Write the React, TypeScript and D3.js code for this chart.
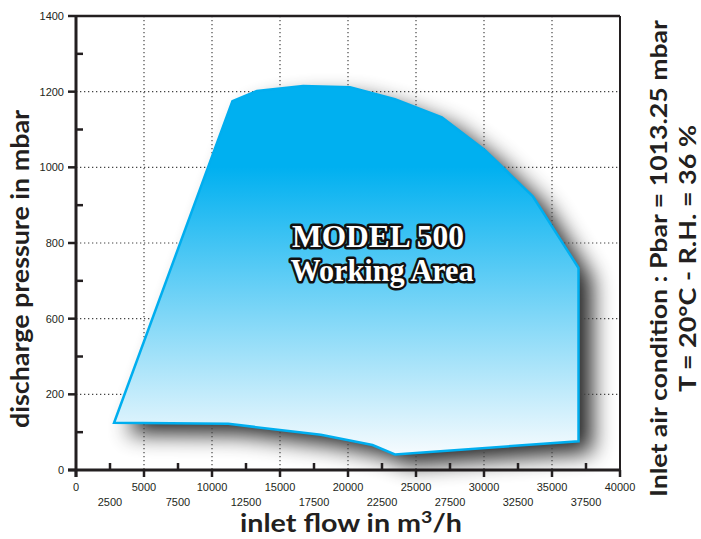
import React from 'react';
import * as d3 from 'd3';

// axis ticks
const flowMajor = [0, 5000, 10000, 15000, 20000, 25000, 30000, 35000, 40000];
const flowMinor = [2500, 7500, 12500, 17500, 22500, 27500, 32500, 37500];
const pressureMajor = [0, 200, 600, 800, 1000, 1200, 1400];
const pressureMinor = [100, 400, 700, 900, 1100, 1300];

// working area envelope (m3/h, mbar)
const envelopeFlow = [2800, 11500, 13300, 16700, 20150, 23450, 26900, 30050, 33600, 36950, 36950, 23450, 21800, 18000, 11200];
const envelopePressure = [125, 1175, 1202, 1215, 1212, 1180, 1132, 1046, 923, 734, 76, 41, 66, 93, 122];

const ink = '#231f20';
const titleFont = 'Lato, "DejaVu Sans", sans-serif';
const tickFont = '"Liberation Sans", Arial, sans-serif';

const App = () => {
  const left = 76;
  const right = 620;
  const top = 16;
  const bottom = 470;

  const x = d3.scaleLinear().domain([0, 40000]).range([left, right]);
  const step = (bottom - top) / (pressureMajor.length - 1);
  // the original axis spaces its labels evenly
  const y = d3
    .scaleLinear()
    .domain(pressureMajor)
    .range(pressureMajor.map((_, i) => bottom - i * step));

  const points: [number, number][] = envelopeFlow.map((f, i) => [f, envelopePressure[i]]);
  const area = d3
    .line<[number, number]>()
    .x((d) => x(d[0]))
    .y((d) => y(d[1]))
    .curve(d3.curveLinearClosed);
  const d = area(points) || '';

  return (
    <svg width={701} height={539} style={{ position: 'absolute', left: 0, top: 0, background: '#fff' }}>
      <defs>
        <filter id="shadow" x="-20%" y="-20%" width="150%" height="150%">
          <feGaussianBlur in="SourceAlpha" stdDeviation="11" />
          <feOffset dx="14" dy="11" result="b" />
          <feComponentTransfer>
            <feFuncA type="linear" slope="0.85" />
          </feComponentTransfer>
        </filter>
        <linearGradient id="fill" gradientUnits="userSpaceOnUse" x1="0" y1={y(1215)} x2="0" y2={y(41)}>
          <stop offset="0" stopColor="#00b0f0" />
          <stop offset="0.22" stopColor="#00b0f0" />
          <stop offset="1" stopColor="#f6fbfe" />
        </linearGradient>
      </defs>

      <path d={d} fill="#000" filter="url(#shadow)" />

      {/* grid */}
      <g stroke="#444" strokeWidth={1.2} strokeDasharray="1.3 2.7">
        {flowMajor.filter((v) => v > 0 && v < 40000).map((v) => (
          <line key={'gx' + v} x1={x(v)} x2={x(v)} y1={top} y2={bottom} />
        ))}
        {pressureMajor.filter((v) => v > 0 && v < 1400).map((v) => (
          <line key={'gy' + v} x1={left} x2={right} y1={y(v)} y2={y(v)} />
        ))}
      </g>

      <path d={d} fill="url(#fill)" stroke="#00aeef" strokeWidth={2.5} strokeLinejoin="miter" />

      {/* frame */}
      <line x1={left} x2={right} y1={top} y2={top} stroke={ink} strokeWidth={2.5} />
      <line x1={right} x2={right} y1={top} y2={bottom} stroke={ink} strokeWidth={2} />

      {/* x axis */}
      <g stroke={ink}>
        <line x1={left - 8} x2={right + 1} y1={bottom} y2={bottom} strokeWidth={3} />
        {flowMajor.map((v) => (
          <line key={'xt' + v} x1={x(v)} x2={x(v)} y1={bottom} y2={bottom + 7} strokeWidth={2.5} />
        ))}
        {flowMinor.map((v) => (
          <line key={'xm' + v} x1={x(v)} x2={x(v)} y1={bottom} y2={bottom - 7} strokeWidth={2.5} />
        ))}
      </g>
      <g fontFamily={tickFont} fontSize={11} fill={ink} textAnchor="middle">
        {flowMajor.map((v) => (
          <text key={'xl' + v} x={x(v)} y={491}>{v}</text>
        ))}
        {flowMinor.map((v) => (
          <text key={'xml' + v} x={x(v)} y={505.5}>{v}</text>
        ))}
      </g>

      {/* y axis */}
      <g stroke={ink}>
        <line x1={left} x2={left} y1={top - 1} y2={bottom + 7} strokeWidth={3} />
        {pressureMajor.map((v) => (
          <line key={'yt' + v} x1={left - 8} x2={left} y1={y(v)} y2={y(v)} strokeWidth={2.5} />
        ))}
        {pressureMinor.map((v) => (
          <line key={'ym' + v} x1={left} x2={left + 7} y1={y(v)} y2={y(v)} strokeWidth={2.5} />
        ))}
      </g>
      <g fontFamily={tickFont} fontSize={11} fill={ink} textAnchor="end">
        {pressureMajor.map((v) => (
          <text key={'yl' + v} x={64} y={y(v)} dominantBaseline="central">{v}</text>
        ))}
      </g>

      {/* titles */}
      <text x={351} y={532} textAnchor="middle" fontFamily={titleFont} fontWeight="bold" fontSize={25} fill={ink} textLength={222} lengthAdjust="spacingAndGlyphs">
        inlet flow in m<tspan fontSize={17} dy={-9}>3</tspan><tspan dy={9}>/h</tspan>
      </text>
      <text
        transform="translate(29,269) rotate(-90)"
        textAnchor="middle"
        fontFamily={titleFont}
        fontWeight="bold"
        fontSize={24}
        fill={ink}
        textLength={318}
        lengthAdjust="spacingAndGlyphs"
      >
        discharge pressure in mbar
      </text>
      <text
        transform="translate(667,258.5) rotate(-90)"
        textAnchor="middle"
        fontFamily={titleFont}
        fontWeight="bold"
        fontSize={22}
        fill={ink}
        textLength={477}
        lengthAdjust="spacingAndGlyphs"
      >
        Inlet air condition : Pbar = 1013.25 mbar
      </text>
      <text
        transform="translate(696,258.5) rotate(-90)"
        textAnchor="middle"
        fontFamily={titleFont}
        fontWeight="bold"
        fontSize={22}
        fill={ink}
        textLength={267}
        lengthAdjust="spacingAndGlyphs"
      >
        T = 20°C - R.H. = 36 %
      </text>

      {/* area label */}
      <g
        fontFamily='"Liberation Serif", "DejaVu Serif", serif'
        fontWeight="bold"
        fontSize={31}
        fill="#fff"
        stroke="#111"
        strokeWidth={5}
        strokeLinejoin="round"
        paintOrder="stroke"
        textAnchor="middle"
      >
        <text x={378} y={247} textLength={172} lengthAdjust="spacingAndGlyphs">MODEL 500</text>
        <text x={382} y={281} textLength={183} lengthAdjust="spacingAndGlyphs">Working Area</text>
      </g>
    </svg>
  );
};

export default App;
